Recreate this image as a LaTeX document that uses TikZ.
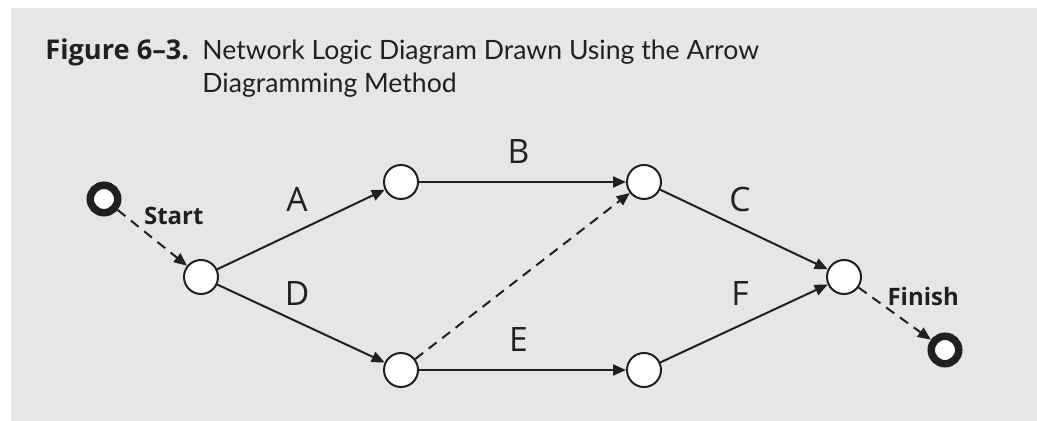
\documentclass[tikz,border=0pt]{standalone}
\usepackage{fontspec}
\setmainfont{Open Sans}
\newfontfamily\captionfont[Ligatures=TeX]{Lato}
\usepackage{xcolor}
\usepackage{tikz}
\usetikzlibrary{arrows.meta,positioning}

\definecolor{panelgray}{HTML}{E6E6E6}
\definecolor{ink}{HTML}{231F20}

\begin{document}
\begin{tikzpicture}[
	x=0.5pt, y=-0.5pt,
	event/.style={circle, draw=ink, line width=1pt, fill=white, minimum size=17pt, inner sep=0pt},
	terminal/.style={circle, draw=ink, line width=3.75pt, fill=white, minimum size=13.75pt, inner sep=0pt},
	act/.style={-{Triangle[length=6.5pt, width=5.5pt]}, line width=1pt, draw=ink},
	dummy/.style={act, dash pattern=on 5pt off 3.5pt},
	lbl/.style={font=\fontsize{16.8}{18}\selectfont, text=ink, inner sep=1pt, above=7.5pt, xshift=-2pt},
	tag/.style={font=\bfseries\fontsize{12}{14}\selectfont, text=ink, inner sep=1pt},
	titletext/.style={font=\captionfont\fontsize{13.3}{16}\selectfont, text=ink, inner sep=0pt, anchor=base west}
]
\useasboundingbox (0,0) rectangle (1037,421);
\fill[panelgray] (11,8) rectangle (1037,421);

% caption
\node[titletext, font=\bfseries\fontsize{13.6}{16}\selectfont] (figno) at (45,60) {Figure 6--3.};
\node[titletext] (cap1) at (202,60) {Network Logic Diagram Drawn Using the Arrow};
\node[titletext] (cap2) at (202,93) {Diagramming Method};

% events
\node[terminal] (start) at (104,199) {};
\node[event] (e1) at (201,277) {};
\node[event] (e2) at (401,182) {};
\node[event] (e3) at (401,370) {};
\node[event] (e4) at (644,182) {};
\node[event] (e5) at (644,370) {};
\node[event] (e6) at (844,277) {};
\node[terminal] (finish) at (945,350) {};

% activities
\draw[dummy] (start) -- node[tag, xshift=10.75pt, yshift=11pt]{Start} (e1);
\draw[act] (e1) -- node[lbl]{A} (e2);
\draw[act] (e1) -- node[lbl]{D} (e3);
\draw[act] (e2) -- node[lbl]{B} (e4);
\draw[act] (e3) -- node[lbl]{E} (e5);
\draw[dummy] (e3) -- (e4);
\draw[act] (e4) -- node[lbl]{C} (e6);
\draw[act] (e5) -- node[lbl]{F} (e6);
\draw[dummy] (e6) -- node[tag, xshift=14.25pt, yshift=8.75pt]{Finish} (finish);
\end{tikzpicture}
\end{document}
